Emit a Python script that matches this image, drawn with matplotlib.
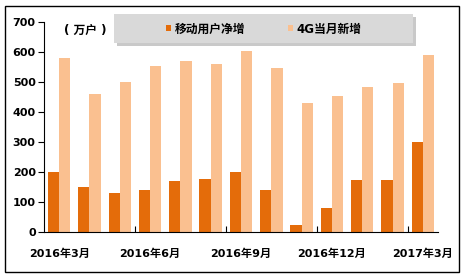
import numpy as np
import matplotlib
matplotlib.use("Agg")
import matplotlib.pyplot as plt
from matplotlib.patches import Rectangle

plt.rcParams['font.family'] = ['DejaVu Sans', 'Noto Sans CJK SC']

# 数据
months = ['2016年3月', '2016年4月', '2016年5月', '2016年6月', '2016年7月', '2016年8月',
          '2016年9月', '2016年10月', '2016年11月', '2016年12月', '2017年1月', '2017年2月',
          '2017年3月']
net_add = [200, 150, 130, 140, 170, 178, 200, 140, 25, 80, 175, 175, 300]
add_4g = [580, 460, 500, 555, 570, 560, 605, 548, 430, 455, 485, 497, 590]
series_names = ['移动用户净增', '4G当月新增']
label_idx = [0, 3, 6, 9, 12]

dark = '#E46C0A'
light = '#FAC090'

fig = plt.figure(figsize=(4.65, 2.8), dpi=100)
W, H = 465, 280

# 外框
fig.patches.append(Rectangle((5 / W, 1 - 271.5 / H), 454 / W, 265.5 / H,
                             transform=fig.transFigure, fill=False,
                             edgecolor='black', lw=1.0))

ax = fig.add_axes([44 / W, 1 - 232 / H, 394 / W, 210 / H])
x = np.arange(len(months))
w = 0.37
b1 = ax.bar(x - w / 2, net_add, w, color=dark, label=series_names[0])
b2 = ax.bar(x + w / 2, add_4g, w, color=light, label=series_names[1])

ax.set_xlim(-0.5, len(months) - 0.5)
ax.set_ylim(0, 700)
ax.set_yticks(range(0, 701, 100))
ax.tick_params(axis='y', direction='out', length=4, width=0.8, pad=2, labelsize=8)
ax.set_xticks(label_idx)
ax.set_xticklabels([months[i] for i in label_idx])
ax.tick_params(axis='x', length=0, pad=12, labelsize=8)
ax.set_xticks([2.5, 5.5, 8.5, 11.5], minor=True)
ax.tick_params(axis='x', which='minor', direction='in', length=4, width=0.8)
for lab in ax.get_xticklabels() + ax.get_yticklabels():
    lab.set_fontweight('bold')
for s in ['top', 'right']:
    ax.spines[s].set_visible(False)
for s in ['left', 'bottom']:
    ax.spines[s].set_linewidth(0.8)

# 单位
fig.text(85 / W, 1 - 30 / H, '( 万户 )', ha='center', va='center',
         fontsize=8.5, fontweight='bold')

# 图例框
fig.patches.append(Rectangle((117 / W, 1 - 46 / H), 299 / W, 29 / H,
                             transform=fig.transFigure, facecolor='#a6a6a6',
                             edgecolor='none', alpha=0.6, zorder=1))
fig.patches.append(Rectangle((114 / W, 1 - 43 / H), 299 / W, 29 / H,
                             transform=fig.transFigure, facecolor='#d9d9d9',
                             edgecolor='none', zorder=2))
leg = fig.legend(handles=[b1, b2], loc='center',
                 bbox_to_anchor=(264 / W, 1 - 29 / H), ncol=2, frameon=False,
                 handlelength=0.45, handleheight=0.45,
                 handletextpad=0.3, columnspacing=3.6,
                 prop={'weight': 'bold', 'size': 8.5})
leg.set_zorder(3)

fig.savefig('out.png', dpi=100)
